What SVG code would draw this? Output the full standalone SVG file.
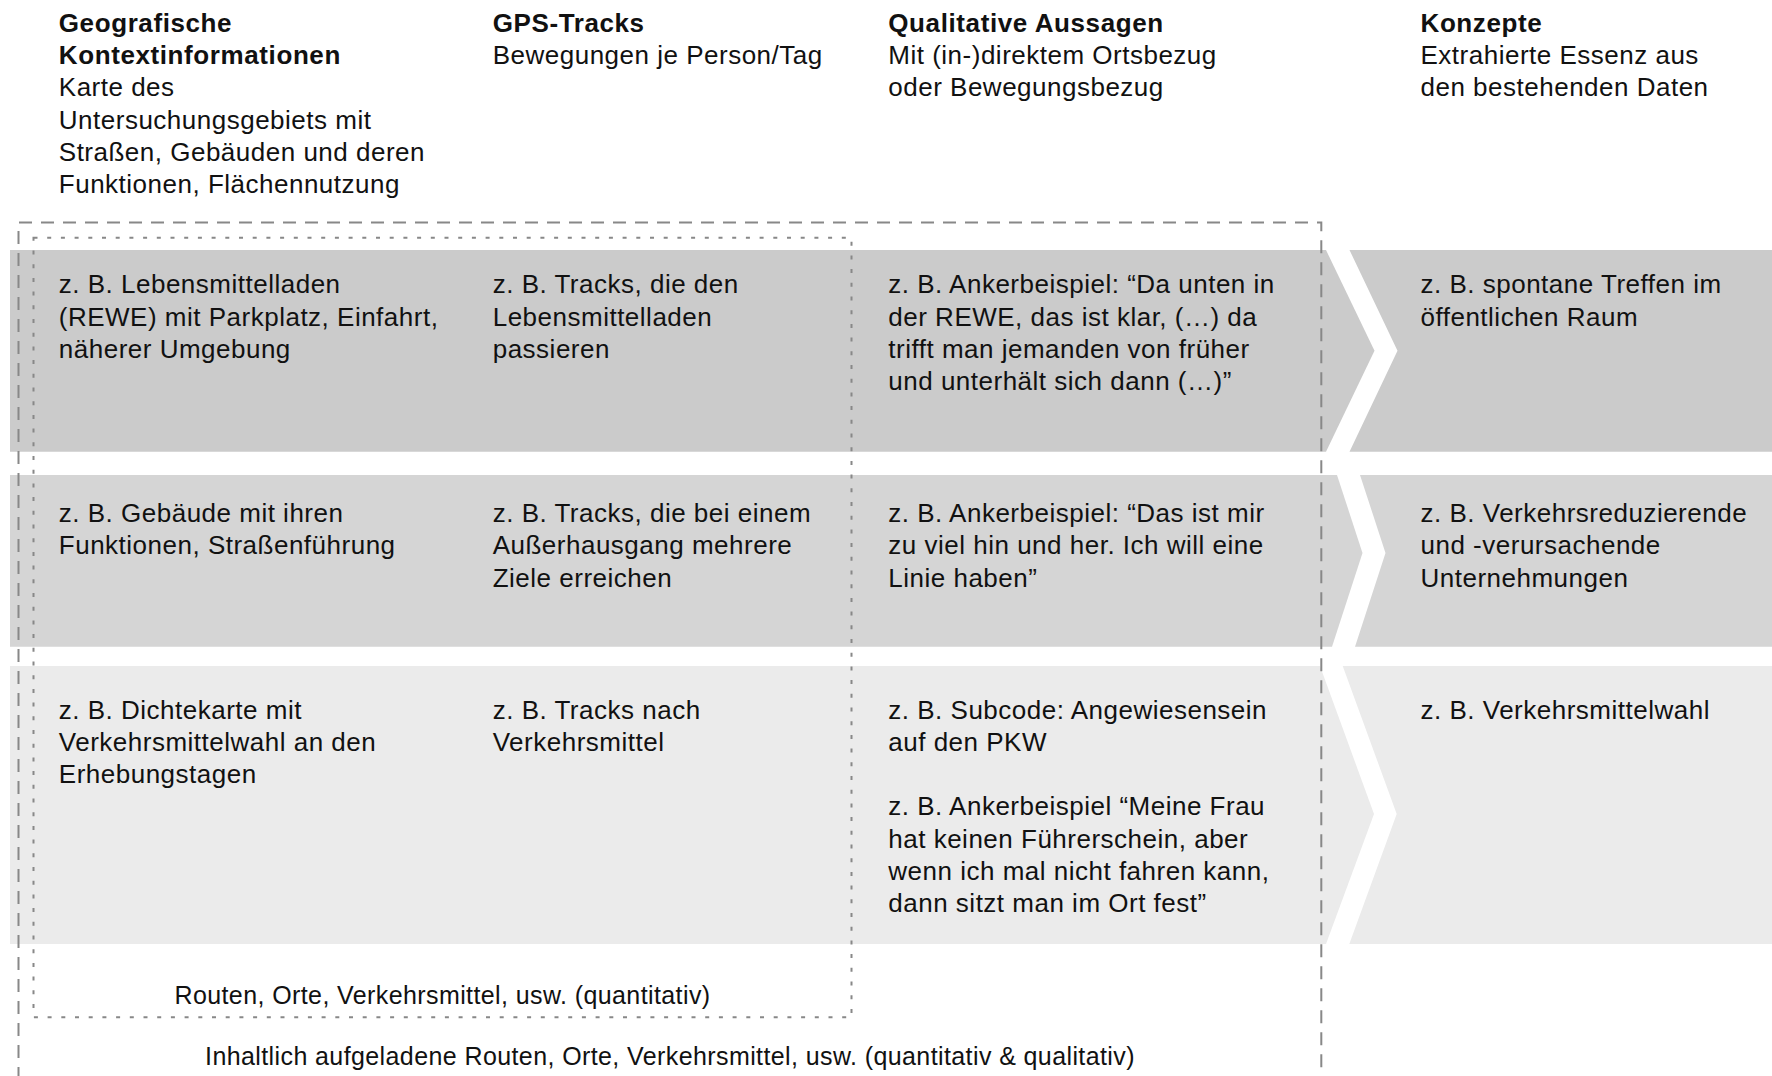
<svg xmlns="http://www.w3.org/2000/svg" width="1772" height="1076" viewBox="0 0 1772 1076">
<style>
text{font-family:"Liberation Sans",Arial,Helvetica,sans-serif;font-size:26px;fill:#111;letter-spacing:0.5px}
.b{font-weight:700;letter-spacing:0.6px}
.lbl{font-size:25px;text-anchor:middle;letter-spacing:0.4px}
.r1{fill:#cbcbcb}
.r2{fill:#d5d5d5}
.r3{fill:#ebebeb}
.outer{fill:none;stroke:#888;stroke-width:2;stroke-dasharray:13 9}
.inner{fill:none;stroke:#888;stroke-width:2;stroke-dasharray:4 9.7}
</style>
<rect width="1772" height="1076" fill="#fff"/>
<g id="bands">
<polygon class="r1" points="10,250 1326,250 1374.5,350.8 1326,451.7 10,451.7"/>
<polygon class="r1" points="1349.5,250 1772,250 1772,451.7 1349.5,451.7 1397.5,350.8"/>
<polygon class="r2" points="10,475 1337,475 1362.5,553 1332,646.7 10,646.7"/>
<polygon class="r2" points="1360,475 1772,475 1772,646.7 1355,646.7 1385.5,553"/>
<polygon class="r3" points="10,666 1320,666 1374,814 1326,944 10,944"/>
<polygon class="r3" points="1342.7,666 1772,666 1772,944 1349.3,944 1396.7,814"/>
</g>
<g id="connectors">
<path class="outer" d="M18.5,1080 V222.5 H1321.3 V1080"/>
<rect class="inner" x="33.5" y="237.7" width="818" height="779.6"/>
</g>
<g id="header-geo">
<text class="b" x="58.8" y="31.6">Geografische</text>
<text class="b" x="58.8" y="64">Kontextinformationen</text>
<text x="58.8" y="96.3">Karte des</text>
<text x="58.8" y="128.6">Untersuchungsgebiets mit</text>
<text x="58.8" y="161">Straßen, Gebäuden und deren</text>
<text x="58.8" y="193.3">Funktionen, Flächennutzung</text>
</g>
<g id="header-gps">
<text class="b" x="492.7" y="31.6">GPS-Tracks</text>
<text x="492.7" y="64">Bewegungen je Person/Tag</text>
</g>
<g id="header-qual">
<text class="b" x="888.3" y="31.6">Qualitative Aussagen</text>
<text x="888.3" y="64">Mit (in-)direktem Ortsbezug</text>
<text x="888.3" y="96.3">oder Bewegungsbezug</text>
</g>
<g id="header-konzepte">
<text class="b" x="1420.5" y="31.6">Konzepte</text>
<text x="1420.5" y="64">Extrahierte Essenz aus</text>
<text x="1420.5" y="96.3">den bestehenden Daten</text>
</g>
<g id="r1-geo">
<text x="58.8" y="293.3">z. B. Lebensmittelladen</text>
<text x="58.8" y="325.6">(REWE) mit Parkplatz, Einfahrt,</text>
<text x="58.8" y="357.9">näherer Umgebung</text>
</g>
<g id="r1-gps">
<text x="492.7" y="293.3">z. B. Tracks, die den</text>
<text x="492.7" y="325.6">Lebensmittelladen</text>
<text x="492.7" y="357.9">passieren</text>
</g>
<g id="r1-qual">
<text x="888.3" y="293.3">z. B. Ankerbeispiel: “Da unten in</text>
<text x="888.3" y="325.6">der REWE, das ist klar, (…) da</text>
<text x="888.3" y="357.9">trifft man jemanden von früher</text>
<text x="888.3" y="390.2">und unterhält sich dann (…)”</text>
</g>
<g id="r1-konzept">
<text x="1420.5" y="293.3">z. B. spontane Treffen im</text>
<text x="1420.5" y="325.6">öffentlichen Raum</text>
</g>
<g id="r2-geo">
<text x="58.8" y="522">z. B. Gebäude mit ihren</text>
<text x="58.8" y="554.3">Funktionen, Straßenführung</text>
</g>
<g id="r2-gps">
<text x="492.7" y="522">z. B. Tracks, die bei einem</text>
<text x="492.7" y="554.3">Außerhausgang mehrere</text>
<text x="492.7" y="586.6">Ziele erreichen</text>
</g>
<g id="r2-qual">
<text x="888.3" y="522">z. B. Ankerbeispiel: “Das ist mir</text>
<text x="888.3" y="554.3">zu viel hin und her. Ich will eine</text>
<text x="888.3" y="586.6">Linie haben”</text>
</g>
<g id="r2-konzept">
<text x="1420.5" y="522">z. B. Verkehrsreduzierende</text>
<text x="1420.5" y="554.3">und -verursachende</text>
<text x="1420.5" y="586.6">Unternehmungen</text>
</g>
<g id="r3-geo">
<text x="58.8" y="718.5">z. B. Dichtekarte mit</text>
<text x="58.8" y="750.8">Verkehrsmittelwahl an den</text>
<text x="58.8" y="783.1">Erhebungstagen</text>
</g>
<g id="r3-gps">
<text x="492.7" y="718.5">z. B. Tracks nach</text>
<text x="492.7" y="750.8">Verkehrsmittel</text>
</g>
<g id="r3-qual">
<text x="888.3" y="718.5">z. B. Subcode: Angewiesensein</text>
<text x="888.3" y="750.8">auf den PKW</text>
<text x="888.3" y="815.4">z. B. Ankerbeispiel “Meine Frau</text>
<text x="888.3" y="847.7">hat keinen Führerschein, aber</text>
<text x="888.3" y="880">wenn ich mal nicht fahren kann,</text>
<text x="888.3" y="912.3">dann sitzt man im Ort fest”</text>
</g>
<g id="r3-konzept">
<text x="1420.5" y="718.5">z. B. Verkehrsmittelwahl</text>
</g>
<g id="label-quant">
<text class="lbl" x="442.5" y="1003.5">Routen, Orte, Verkehrsmittel, usw. (quantitativ)</text>
</g>
<g id="label-qual">
<text class="lbl" x="670" y="1065">Inhaltlich aufgeladene Routen, Orte, Verkehrsmittel, usw. (quantitativ &amp; qualitativ)</text>
</g>
</svg>
